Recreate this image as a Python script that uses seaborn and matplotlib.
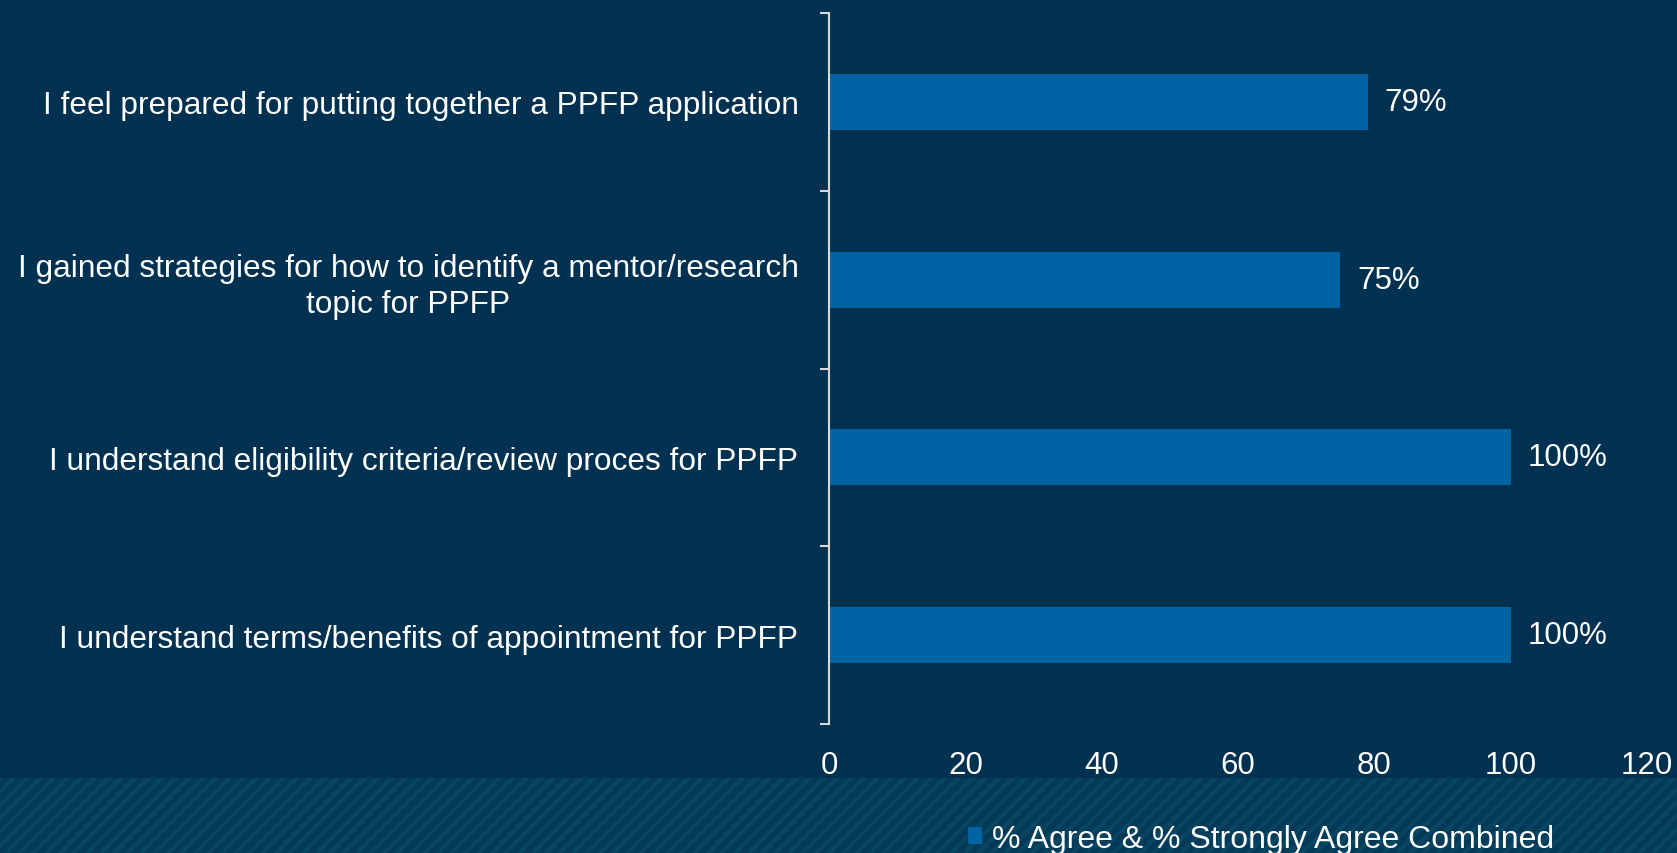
import matplotlib
matplotlib.use("Agg")
import matplotlib.pyplot as plt
from matplotlib.patches import Rectangle
from matplotlib.lines import Line2D
from matplotlib.ticker import FixedLocator, NullFormatter
import seaborn as sns

# Data
statements = [
    "I feel prepared for putting together a PPFP application",
    "I gained strategies for how to identify a mentor/research\ntopic for PPFP",
    "I understand eligibility criteria/review proces for PPFP",
    "I understand terms/benefits of appointment for PPFP",
]
pct_agree = [79, 75, 100, 100]
series_name = "% Agree & % Strongly Agree Combined"
x_ticks = [0, 20, 40, 60, 80, 100, 120]

bg = "#003150"
bar_col = "#0064a4"
axis_col = "#d9d9d9"
band_col = "#023a58"
stripe_col = "#074662"

sns.set_style("white")
plt.rcParams["font.family"] = ["Liberation Sans", "DejaVu Sans"]

W, H = 16.77, 8.54
fig = plt.figure(figsize=(W, H), dpi=100, facecolor=bg)

# striped band at the bottom of the slide
band_h = 75 / 854
band = Rectangle((0, 0), 1, band_h, transform=fig.transFigure,
                 facecolor=band_col, linewidth=0, zorder=0)
fig.patches.append(band)
band_in = band_h * H
step = 0.135
x0 = -band_in
while x0 < W:
    ln = Line2D([x0, x0 + band_in * 1.1], [0, band_in * 1.1],
                transform=fig.dpi_scale_trans, color=stripe_col,
                linewidth=3.0, zorder=0.5)
    ln.set_clip_path(band)
    fig.add_artist(ln)
    x0 += step

ax = fig.add_axes([829 / 1677, 1 - 725 / 854, (1647 - 829) / 1677, (725 - 14) / 854])
ax.patch.set_alpha(0)

sns.barplot(x=pct_agree, y=statements, orient="h", color=bar_col,
            saturation=1, width=0.315, linewidth=0, label=series_name, ax=ax)
if ax.get_legend() is not None:
    ax.get_legend().remove()

ax.set_xlim(0, 120)
ax.set_ylim(3.5, -0.5)
ax.set_xticks(x_ticks)
ax.tick_params(axis="x", length=0, pad=19, labelsize=22.5, labelcolor="white")
ax.tick_params(axis="y", which="major", length=0, pad=22, labelsize=22.8,
               labelcolor="white")
for lab in ax.get_yticklabels():
    lab.set_multialignment("center")
    lab.set_linespacing(1.25)
ax.yaxis.set_minor_locator(FixedLocator([-0.5, 0.5, 1.5, 2.5, 3.5]))
ax.yaxis.set_minor_formatter(NullFormatter())
ax.tick_params(axis="y", which="minor", length=6.5, width=1.5, color=axis_col,
               left=True)

for s in ["top", "right", "bottom"]:
    ax.spines[s].set_visible(False)
ax.spines["left"].set_color(axis_col)
ax.spines["left"].set_linewidth(1.5)
ax.set_xlabel("")
ax.set_ylabel("")

for cont in ax.containers:
    ax.bar_label(cont, fmt="{:.0f}%", padding=12, color="white", fontsize=22.5)

handles, labels = ax.get_legend_handles_labels()
leg = fig.legend(handles, labels, loc="center left",
                 bbox_to_anchor=(968 / 1677, 14 / 854),
                 frameon=False, fontsize=23, handlelength=0.45, handleheight=0.45,
                 handletextpad=0.3, borderpad=0, borderaxespad=0)
for t in leg.get_texts():
    t.set_color("white")

fig.savefig("out.png", dpi=100, facecolor=bg)
